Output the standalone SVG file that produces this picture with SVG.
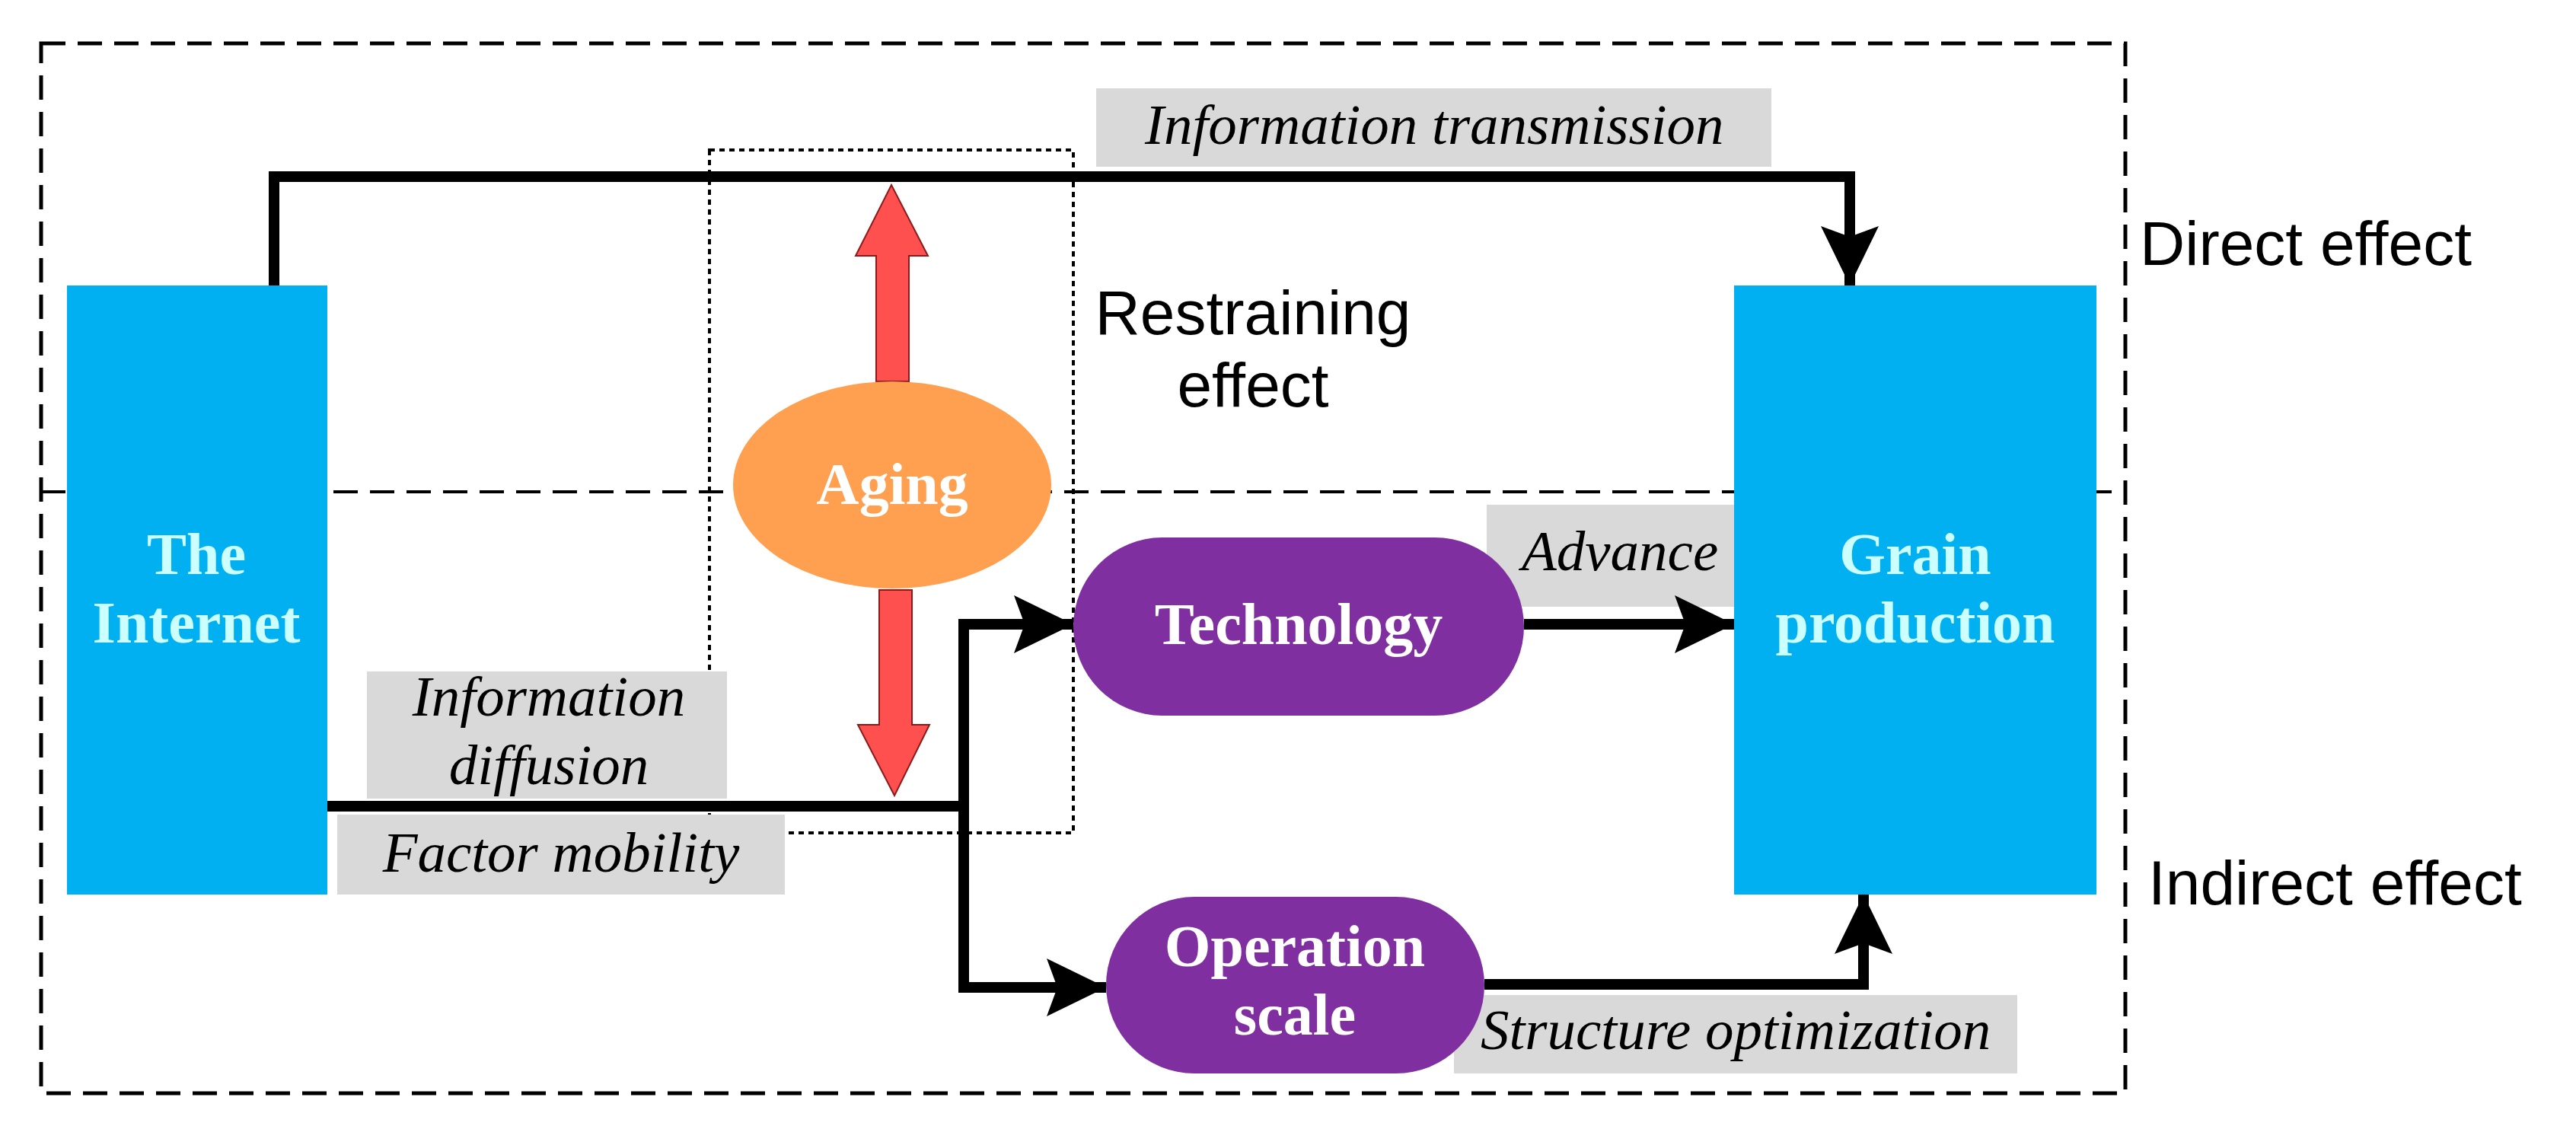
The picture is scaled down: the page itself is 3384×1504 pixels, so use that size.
<svg xmlns="http://www.w3.org/2000/svg" width="3384" height="1504" viewBox="0 0 3384 1504">
<style>
.lbl{fill:#D9D9D9}
.it{font-family:"Liberation Serif",serif;font-style:italic;font-size:75px;fill:#000}
.nd{font-family:"Liberation Serif",serif;font-weight:bold;font-size:78px;text-anchor:middle}
.ar{font-family:"Liberation Sans",Arial,sans-serif;font-size:82px;fill:#000}
.ln{fill:none;stroke:#000;stroke-width:14}
</style>
<defs>
<marker id="ah" markerUnits="userSpaceOnUse" markerWidth="80" markerHeight="80" viewBox="0 0 80 80" refX="78" refY="40" orient="auto"><path d="M0,2 L78,40 L0,78 L14,40 Z" fill="#000"/></marker>
</defs>
<rect x="54" y="57" width="2738" height="1379" fill="none" stroke="#000" stroke-width="5" stroke-dasharray="32,16"/>
<line x1="54" y1="646" x2="2792" y2="646" stroke="#000" stroke-width="4" stroke-dasharray="32,16"/>
<rect x="932" y="197" width="478" height="897" fill="none" stroke="#000" stroke-width="4" stroke-dasharray="7,6"/>
<g id="labels">
<rect class="lbl" x="1440" y="116" width="887" height="103"/>
<text class="it" x="1504" y="189">Information transmission</text>
<rect class="lbl" x="482" y="882" width="473" height="167"/>
<text class="it" x="721" y="940" text-anchor="middle">Information</text>
<text class="it" x="721" y="1030" text-anchor="middle">diffusion</text>
<rect class="lbl" x="443" y="1070" width="588" height="105"/>
<text class="it" x="737" y="1145" text-anchor="middle">Factor mobility</text>
<rect class="lbl" x="1953" y="663" width="340" height="134"/>
<text class="it" x="1999" y="749">Advance</text>
<rect class="lbl" x="1910" y="1307" width="740" height="103"/>
<text class="it" x="1945" y="1378">Structure optimization</text>
<text class="ar" x="1646" y="439" text-anchor="middle">Restraining</text>
<text class="ar" x="1646" y="534" text-anchor="middle">effect</text>
<text class="ar" x="2811" y="348">Direct effect</text>
<text class="ar" x="2822" y="1188">Indirect effect</text>
</g>
<g id="connectors">
<path class="ln" d="M360,375 V232 H2430 V375" marker-end="url(#ah)"/>
<path class="ln" d="M430,1059 H1266"/>
<path class="ln" d="M1266,1059 V820 H1410" marker-end="url(#ah)"/>
<path class="ln" d="M1266,1059 V1297 H1453" marker-end="url(#ah)"/>
<path class="ln" d="M2002,820 H2278" marker-end="url(#ah)"/>
<path class="ln" d="M1950,1293 H2448 V1175" marker-end="url(#ah)"/>
<polygon points="1171,243 1219,336 1194,336 1194,501 1151,501 1151,336 1124,336" fill="#FF5050" stroke="#8B1A1A" stroke-width="2"/>
<polygon points="1175,1045 1221,952 1198,952 1198,775 1155,775 1155,952 1127,952" fill="#FF5050" stroke="#8B1A1A" stroke-width="2"/>
</g>
<g id="internet">
<rect x="88" y="375" width="342" height="800" fill="#00B0F0"/>
<text class="nd" x="258" y="754" fill="#CCFFFF">The</text>
<text class="nd" x="258" y="844" fill="#CCFFFF">Internet</text>
</g>
<g id="grain">
<rect x="2278" y="375" width="476" height="800" fill="#00B0F0"/>
<text class="nd" x="2516" y="754" fill="#CCFFFF">Grain</text>
<text class="nd" x="2516" y="844" fill="#CCFFFF">production</text>
</g>
<g id="aging">
<ellipse cx="1172" cy="637" rx="209" ry="136" fill="#FFA050"/>
<text class="nd" x="1172" y="662" fill="#FFFFFF">Aging</text>
</g>
<g id="technology">
<rect x="1410" y="706" width="592" height="234" rx="117" fill="#7F2F9F"/>
<text class="nd" x="1706" y="846" fill="#FFFFFF">Technology</text>
</g>
<g id="operation">
<rect x="1453" y="1178" width="497" height="232" rx="116" fill="#7F2F9F"/>
<text class="nd" x="1701" y="1269" fill="#FFFFFF">Operation</text>
<text class="nd" x="1701" y="1359" fill="#FFFFFF">scale</text>
</g>
</svg>
